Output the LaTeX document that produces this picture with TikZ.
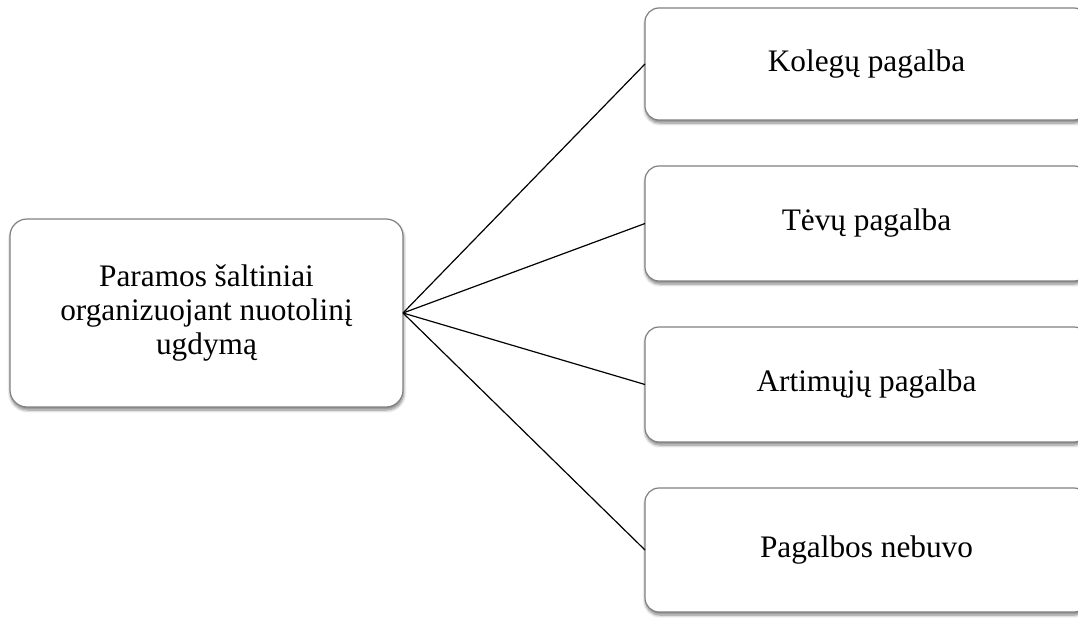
\documentclass[tikz,border=0pt]{standalone}
\usepackage{fontspec}
\setmainfont{Liberation Serif}
\usetikzlibrary{shadows.blur}
\begin{document}
\begin{tikzpicture}[x=1pt,y=-1pt,
  card/.style={draw=black!50, line width=1.2pt, fill=white, rounded corners=17pt,
    inner sep=0pt, outer sep=0pt, align=center,
    font=\fontsize{31.3}{34}\selectfont,
    blur shadow={shadow xshift=0.6pt, shadow yshift=-3pt, shadow blur radius=3pt,
      shadow blur steps=6, shadow opacity=50}},
  leaf/.style={card, minimum width=443pt, rounded corners=14pt},
  link/.style={draw=black, line width=1.2pt}]
\useasboundingbox (0,0) rectangle (1078,618);
\clip (0,0) rectangle (1078,618);
% central box
\node[card, minimum width=393pt, minimum height=188pt, text depth=6pt] (src) at (206.5,313)
  {Paramos šaltiniai\\organizuojant nuotolinį\\ugdymą};
% support sources
\node[leaf, minimum height=112pt] (kol) at (866.5,64) {Kolegų pagalba};
\node[leaf, minimum height=115pt] (tev) at (866.5,223.5) {Tėvų pagalba};
\node[leaf, minimum height=115pt] (art) at (866.5,384.5) {Artimųjų pagalba};
\node[leaf, minimum height=124pt] (neb) at (866.5,550) {Pagalbos nebuvo};
% connectors
\foreach \t in {kol,tev,art,neb}
  \draw[link] (src.east) -- (\t.west);
\end{tikzpicture}
\end{document}
